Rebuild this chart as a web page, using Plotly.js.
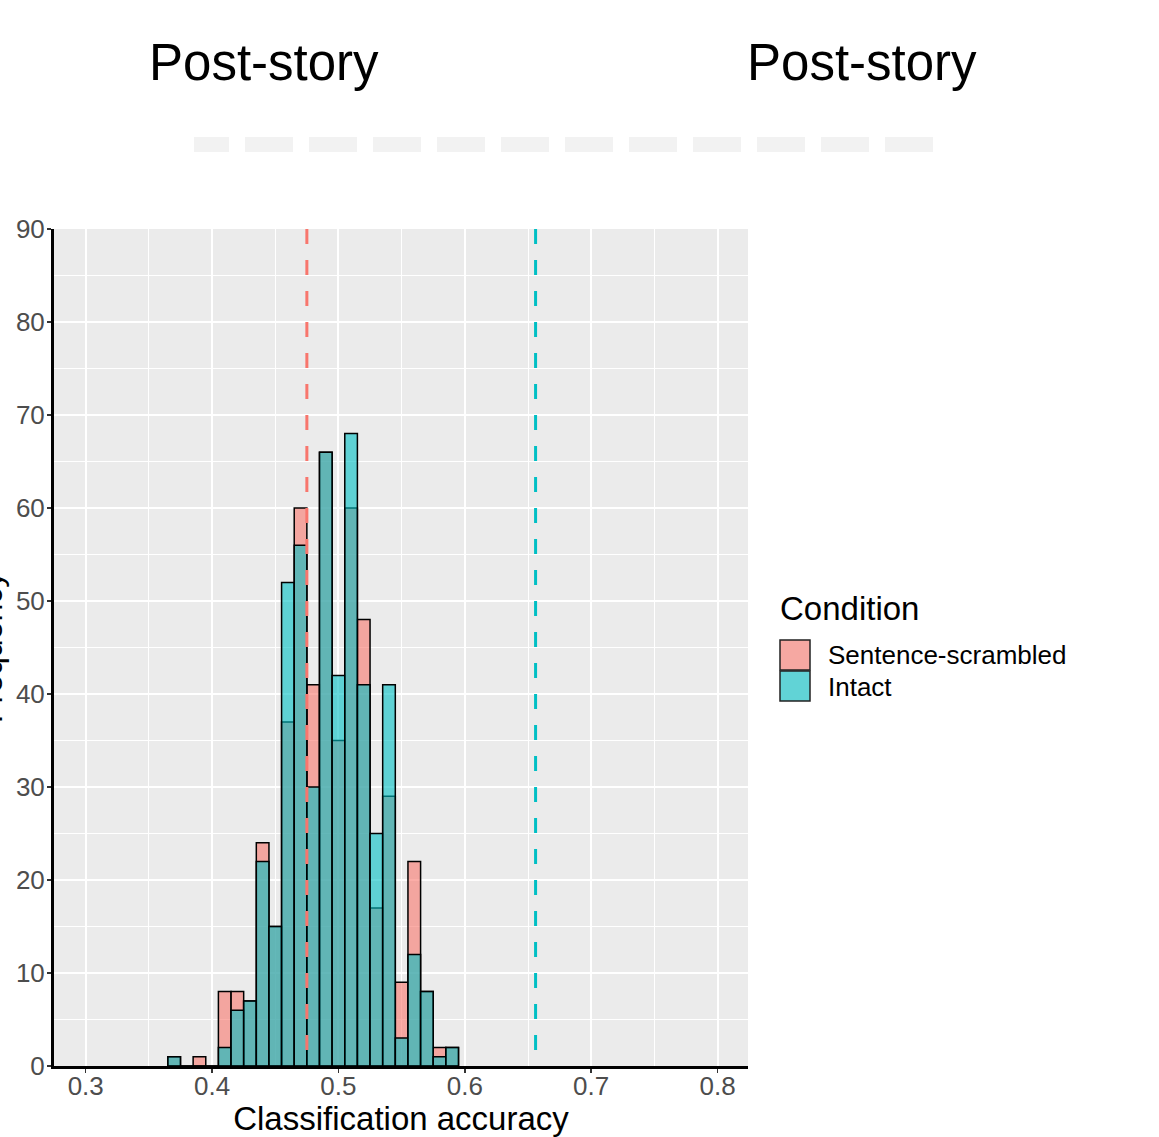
<!DOCTYPE html>
<html><head><meta charset="utf-8">
<script src="https://cdn.plot.ly/plotly-3.0.1.min.js"></script>
<style>html,body{margin:0;padding:0;background:#fff;} #chart{width:1159px;height:1137px;}</style>
</head><body><div id="chart"></div>
<script>
// ---- data ----
const binCenters = [0.37,0.38,0.39,0.40,0.41,0.42,0.43,0.44,0.45,0.46,0.47,0.48,0.49,0.50,0.51,0.52,0.53,0.54,0.55,0.56,0.57,0.58,0.59];
const scrambledCounts = [1,0,1,0,8,8,7,24,15,37,60,41,66,35,60,48,17,29,9,22,8,2,2];
const intactCounts    = [1,0,0,0,2,6,7,22,15,52,56,30,66,42,68,41,25,41,3,12,8,1,2];
const conditionNames = ["Sentence-scrambled", "Intact"];
const observedAccuracy = [0.475, 0.656];
const panelTitles = ["Post-story", "Post-story"];
const xTickVals = [0.3,0.4,0.5,0.6,0.7,0.8];
const xTickText = ["0.3","0.4","0.5","0.6","0.7","0.8"];
const yTickVals = [0,10,20,30,40,50,60,70,80,90];
const xTitleText = "Classification accuracy";
const yTitleText = "Frequency";
const legendTitleText = "Condition";

// ---- style ----
const W = 1159, H = 1137;
const M = {l:54, r:411, t:229, b:71};
const PW = W - M.l - M.r, PH = H - M.t - M.b;
const px = p => (p - M.l) / PW;
const py = p => (H - M.b - p) / PH;
const FONT = "Liberation Sans, Arial, Helvetica, sans-serif";
const fillCols = ["rgba(248,118,109,0.6)", "rgba(0,191,196,0.6)"];
const lineCols = ["#F8766D", "#00BFC4"];
const keyCols = ["#F6A8A2", "#61D3D6"];
const binWidth = 0.01;

const countsList = [scrambledCounts, intactCounts];
const traces = countsList.map((c, i) => ({
  type: "bar", x: binCenters, y: c, width: binWidth, name: conditionNames[i],
  marker: {color: fillCols[i], line: {color: "#000", width: 1.5}},
  hoverinfo: "x+y+name"
}));
observedAccuracy.forEach((v, i) => {
  traces.push({type: "scatter", mode: "lines", x: [v, v], y: [90, 0],
    line: {color: lineCols[i], width: 3, dash: "15px,16px"}, hoverinfo: "skip", showlegend: false});
});

const shapes = [];
// light grey dashed band under the titles
const bandStarts = [194]; const bandEnds = [229];
for (let k = 0; k < 11; k++) { bandStarts.push(245 + 64*k); bandEnds.push(293 + 64*k); }
bandStarts.forEach((s, k) => shapes.push({type: "rect", xref: "paper", yref: "paper",
  x0: px(s), x1: px(bandEnds[k]), y0: py(152), y1: py(137), fillcolor: "#F2F2F2", line: {width: 0}}));
// legend keys
conditionNames.forEach((n, i) => shapes.push({type: "rect", xref: "paper", yref: "paper",
  x0: px(780), x1: px(810), y0: py(670 + 31*i), y1: py(640 + 31*i),
  fillcolor: keyCols[i], line: {color: "#222", width: 1.5}}));

const annotations = [];
[263.5, 861.5].forEach((cx, i) => annotations.push({xref: "paper", yref: "paper",
  x: px(cx), y: py(63), xanchor: "center", yanchor: "middle", showarrow: false,
  text: panelTitles[i], font: {family: FONT, size: 51, color: "#000"}}));
annotations.push({xref: "paper", yref: "paper", x: px(-9), y: py(648), textangle: -90,
  xanchor: "center", yanchor: "middle", showarrow: false, text: yTitleText,
  font: {family: FONT, size: 32, color: "#000"}});
annotations.push({xref: "paper", yref: "paper", x: px(778), y: py(608), xanchor: "left", yanchor: "middle",
  showarrow: false, text: legendTitleText, font: {family: FONT, size: 33, color: "#000"}});
conditionNames.forEach((n, i) => annotations.push({xref: "paper", yref: "paper",
  x: px(826), y: py(655 + 31.5*i), xanchor: "left", yanchor: "middle", showarrow: false,
  text: n, font: {family: FONT, size: 26, color: "#000"}}));

const axisCommon = {
  showline: true, linecolor: "#000", linewidth: 3, mirror: false,
  ticks: "outside", ticklen: 4, tickwidth: 1.5, tickcolor: "#333",
  tickfont: {family: FONT, size: 26, color: "#4D4D4D"},
  showgrid: true, gridcolor: "#FFFFFF", gridwidth: 2, zeroline: false, fixedrange: true
};

const layout = {
  width: W, height: H, margin: {l: M.l, r: M.r, t: M.t, b: M.b, pad: 0},
  paper_bgcolor: "#FFFFFF", plot_bgcolor: "#EBEBEB",
  barmode: "overlay", bargap: 0, showlegend: false,
  font: {family: FONT},
  xaxis: Object.assign({}, axisCommon, {
    range: [0.2749, 0.8241], tickmode: "array", tickvals: xTickVals, ticktext: xTickText,
    ticklabelstandoff: -9,
    minor: {tickmode: "linear", tick0: 0.25, dtick: 0.05, showgrid: true, gridcolor: "#FFFFFF", gridwidth: 1, ticks: ""},
    title: {text: xTitleText, font: {family: FONT, size: 33, color: "#000"}, standoff: 9}
  }),
  yaxis: Object.assign({}, axisCommon, {
    range: [0, 90], tickmode: "array", tickvals: yTickVals, ticklabelstandoff: -3,
    minor: {tickmode: "linear", tick0: 5, dtick: 10, showgrid: true, gridcolor: "#FFFFFF", gridwidth: 1, ticks: ""}
  }),
  shapes: shapes, annotations: annotations
};

Plotly.newPlot("chart", traces, layout, {displayModeBar: false, staticPlot: true});
</script></body></html>
